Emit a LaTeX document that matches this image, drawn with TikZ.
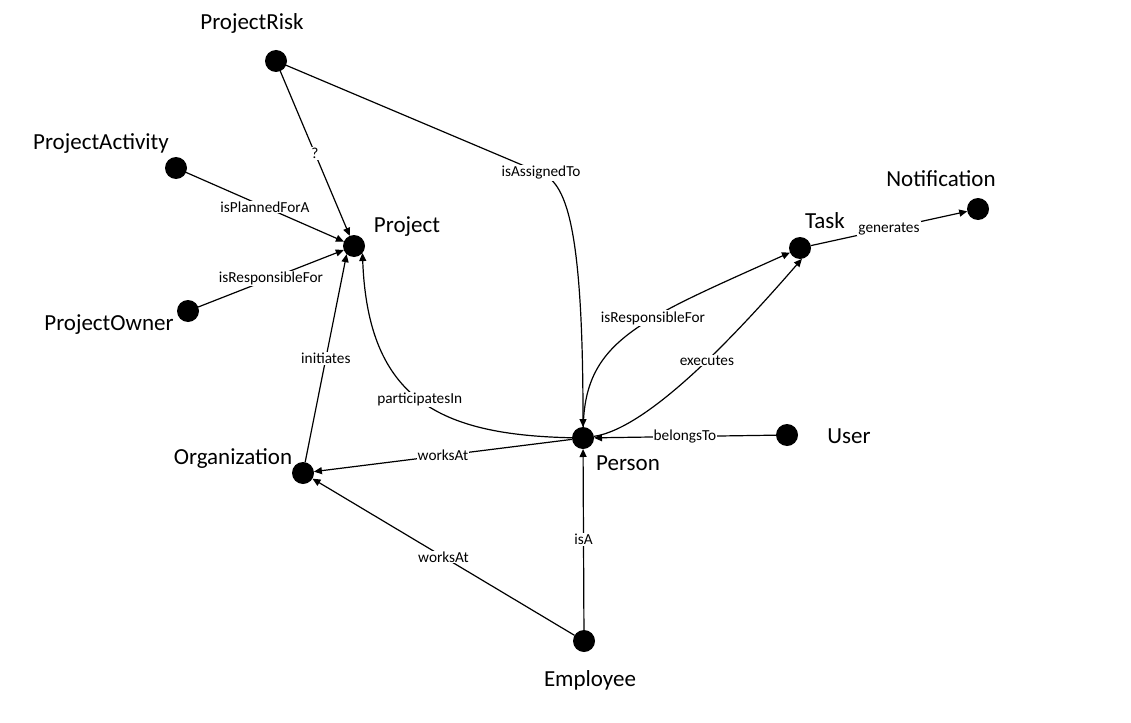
\documentclass[tikz,border=0pt]{standalone}
\usepackage{fontspec}
\setmainfont{Carlito}
\usetikzlibrary{arrows.meta}
\begin{document}
\begin{tikzpicture}[x=1pt,y=-1pt,
  dot/.style={circle, fill=black, minimum size=22pt, inner sep=0pt, outer sep=0pt},
  lbl/.style={font=\fontsize{23}{27}\selectfont, anchor=mid, inner sep=0pt},
  elbl/.style={font=\fontsize{15.3}{18}\selectfont, fill=white, inner sep=1pt},
  conn/.style={line width=1.2pt, -{Triangle[length=8pt,width=7pt]}}]
\useasboundingbox[fill=white] (0,0) rectangle (1131,722);
% dots
\node[dot] (ProjectRisk) at (276,61) {};
\node[dot] (ProjectActivity) at (176,168) {};
\node[dot] (Project) at (354,246) {};
\node[dot] (ProjectOwner) at (188,311) {};
\node[dot] (Organization) at (303,473) {};
\node[dot] (Person) at (583,438) {};
\node[dot] (User) at (787,435) {};
\node[dot] (Employee) at (584,641) {};
\node[dot] (Task) at (800,248) {};
\node[dot] (Notification) at (978,209) {};
% labels
\node[lbl] (lProjectRisk) at (252,27) {ProjectRisk};
\node[lbl] (lProjectActivity) at (101,147) {ProjectActivity};
\node[lbl] (lProject) at (407,230) {Project};
\node[lbl] (lProjectOwner) at (109,328) {ProjectOwner};
\node[lbl] (lOrganization) at (233,462) {Organization};
\node[lbl] (lPerson) at (628,468) {Person};
\node[lbl] (lUser) at (849,441) {User};
\node[lbl] (lEmployee) at (590,684) {Employee};
\node[lbl] (lTask) at (825,226) {Task};
\node[lbl] (lNotification) at (941,184) {Notification};
% connectors
\draw[conn] (ProjectRisk) -- node[elbl]{?} (Project);
\draw[conn] (ProjectActivity) -- node[elbl]{isPlannedForA} (Project);
\draw[conn] (ProjectOwner) -- node[elbl]{isResponsibleFor} (Project);
\draw[conn] (Organization) -- node[elbl]{initiates} (Project.-132);
\draw[conn] (Person) .. controls (440,435) and (368,400) .. node[elbl,pos=0.5]{participatesIn} (Project.-40);
\coordinate (ar) at (541,173);
\draw[conn] (ProjectRisk) -- (ar) node[elbl]{isAssignedTo} .. controls (565,183) and (583,220) .. (Person);
\draw[conn] (Person) .. controls (585,340) and (640,320) .. node[elbl,pos=0.6]{isResponsibleFor} (Task);
\draw[conn] (Person) .. controls (650,428) and (740,330) .. node[elbl,pos=0.55]{executes} (Task.-80);
\draw[conn] (Task) -- node[elbl]{generates} (Notification);
\draw[conn] (User) -- node[elbl]{belongsTo} (Person);
\draw[conn] (Person) -- node[elbl]{worksAt} (Organization);
\draw[conn] (Employee) -- node[elbl]{worksAt} (Organization);
\draw[conn] (Employee) -- node[elbl]{isA} (Person);
\end{tikzpicture}
\end{document}
